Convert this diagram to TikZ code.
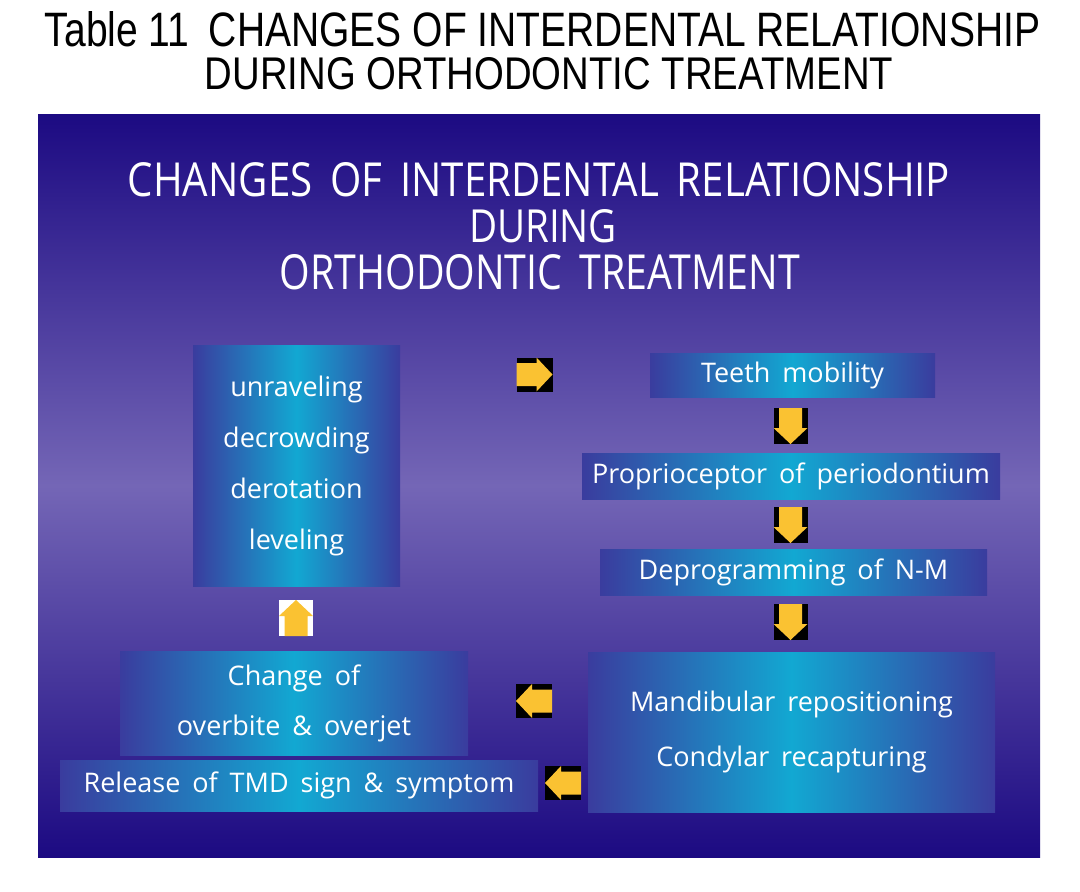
\documentclass[tikz,border=0pt]{standalone}
\usepackage{fontspec}
\usepackage{graphicx}
\setmainfont{Open Sans}[WordSpace=1.7]
\newfontfamily\headfont{Liberation Sans}

\definecolor{navy}{HTML}{1C0A82}
\definecolor{lilac}{HTML}{7466B6}
\definecolor{boxedge}{HTML}{3A3C9E}
\definecolor{boxcyan}{HTML}{12A8D2}
\definecolor{gold}{HTML}{FAC232}

\tikzset{
  stepbox/.style={rectangle, inner sep=0pt, left color=boxedge, right color=boxedge, middle color=boxcyan,
    text=white, align=center, font=\fontsize{27}{51}\selectfont},
  arrowbg/.style={rectangle, inner sep=0pt, minimum width=36, minimum height=34},
  yellowarrow/.style={fill=gold},
  heading/.style={inner sep=0pt, text=white},
}

\begin{document}
\begin{tikzpicture}[x=1pt,y=1pt,yscale=-1,xscale=1]
		% page and margins
		\fill[white] (0,0) rectangle (1080,892);
		\useasboundingbox (0,0) rectangle (1080,892);

		% Caption above the slide
		\node[inner sep=0pt] (caption1) at (542.5,29.5) {\resizebox{995pt}{35pt}{\headfont Table 11\enspace CHANGES OF INTERDENTAL RELATIONSHIP}};
		\node[inner sep=0pt] (caption2) at (549,73.5) {\resizebox{688pt}{32pt}{\headfont DURING ORTHODONTIC TREATMENT}};

		% The slide background
		\fill[top color=navy, bottom color=navy, middle color=lilac] (38,114) rectangle (1040,857);

		% Slide title
		\node[heading] (title1) at (539,180) {\resizebox{822pt}{34pt}{CHANGES OF INTERDENTAL RELATIONSHIP}};
		\node[heading] (title2) at (543,226.5) {\resizebox{148pt}{33pt}{DURING}};
		\node[heading] (title3) at (540,272.5) {\resizebox{520pt}{35pt}{ORTHODONTIC TREATMENT}};

		% Left column
		\node[stepbox, minimum width=207, minimum height=241] (unravel) at (296.5,465.5) {unraveling\\decrowding\\derotation\\leveling};
		\node[stepbox, minimum width=348, minimum height=104, font=\fontsize{27}{50}\selectfont] (overbite) at (294,703) {Change of\\overbite \& overjet};
		\node[stepbox, minimum width=478, minimum height=51] (release) at (299,785.5) {Release of TMD sign \& symptom};

		% Right column
		\node[stepbox, minimum width=285, minimum height=44] (mobility) at (792.5,375) {Teeth mobility};
		\node[stepbox, minimum width=418, minimum height=46] (proprio) at (791,476) {Proprioceptor of periodontium};
		\node[stepbox, minimum width=387, minimum height=46] (deprog) at (793.5,572) {Deprogramming of N-M};
		\node[stepbox, minimum width=407, minimum height=160, font=\fontsize{27}{55}\selectfont] (mandib) at (791.5,732) {Mandibular repositioning\\Condylar recapturing};

		% Block arrows: name/x/y/angle/background
		\foreach \nm/\px/\py/\ang/\bg in {toright/534.5/374.5/0/black, down1/790.5/426/90/black, down2/790.5/525/90/black,
		  down3/790.5/622/90/black, toleft1/534/701/180/black, toleft2/563/783/180/black, toup/296/618/-90/white}
		{
		  \node[arrowbg, fill=\bg, rotate=\ang] (\nm) at (\px,\py) {};
		  \fill[yellowarrow, shift={(\px,\py)}, rotate=\ang]
		    (-18,-11.5) -- (2,-11.5) -- (2,-17) -- (18,0) -- (2,17) -- (2,11.5) -- (-18,11.5) -- cycle;
		}
\end{tikzpicture}
\end{document}
